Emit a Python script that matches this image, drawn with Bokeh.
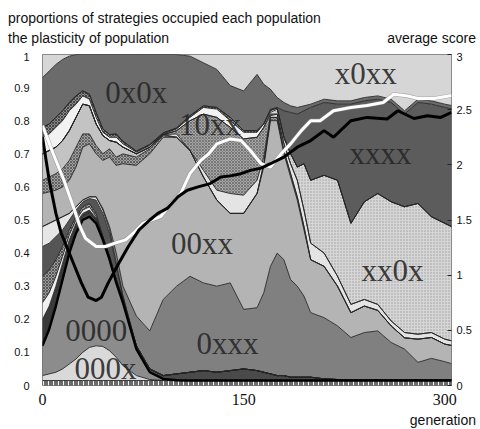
import numpy as np
from bokeh.plotting import figure
from bokeh.layouts import column
from bokeh.models import Range1d, LinearAxis, FixedTicker, CustomJSTickFormatter, Div
from bokeh.core.properties import value
from bokeh.embed import file_html
from bokeh.resources import INLINE

# ---------------- data ----------------
gen = [0, 5, 10, 15, 20, 25, 30, 35, 40, 45,
       50, 55, 60, 70, 80, 90, 100, 110, 120, 130,
       140, 150, 160, 165, 170, 175, 180, 185, 190, 195,
       200, 210, 220, 230, 240, 250, 260, 270, 280, 290,
       300, 305]

# cumulative upper boundary of each strategy band (0 = band absent)
top_base = [0.015] * 42
top_000x = [0.03, 0.035, 0.04, 0.05, 0.065, 0.08, 0.10, 0.115, 0.12, 0.118,
            0.105, 0.085, 0.06, 0.03, 0.018, 0, 0, 0, 0, 0,
            0, 0, 0, 0, 0, 0, 0, 0, 0, 0,
            0, 0, 0, 0, 0, 0, 0, 0, 0, 0,
            0, 0]
top_0000 = [0.12, 0.17, 0.24, 0.32, 0.40, 0.46, 0.50, 0.51, 0.49, 0.44,
            0.38, 0.31, 0.25, 0.11, 0.04, 0.02, 0.016, 0, 0, 0,
            0, 0, 0, 0, 0, 0, 0, 0, 0, 0,
            0, 0, 0, 0, 0, 0, 0, 0, 0, 0,
            0, 0]
top_low = [0.13, 0.18, 0.25, 0.33, 0.41, 0.47, 0.51, 0.52, 0.50, 0.45,
           0.39, 0.32, 0.26, 0.12, 0.05, 0.03, 0.035, 0.04, 0.045, 0.04,
           0.045, 0.05, 0.045, 0.04, 0.035, 0.03, 0.03, 0.025, 0.025, 0.025,
           0.025, 0.02, 0.018, 0.018, 0.018, 0.018, 0.018, 0.018, 0.018, 0.018,
           0.018, 0.018]
top_a1 = [0.20, 0.24, 0.30, 0.37, 0.44, 0.49, 0.52, 0.53, 0.505] + [0] * 33
top_a2 = [0.25, 0.28, 0.33, 0.39, 0.455, 0.50, 0.53, 0.54, 0.51] + [0] * 33
top_a3 = [0.33, 0.35, 0.38, 0.42, 0.47, 0.51, 0.54, 0.55, 0.52] + [0] * 33
top_a4 = [0.42, 0.43, 0.45, 0.47, 0.50, 0.53, 0.555, 0.565, 0.56, 0.52,
          0.46, 0.36, 0.27] + [0] * 29
top_a5 = [0.48, 0.49, 0.50, 0.51, 0.52, 0.54, 0.56, 0.57, 0.57, 0.53,
          0.47, 0.37] + [0] * 30
top_0xxx = [0, 0, 0, 0, 0, 0, 0, 0, 0, 0.535,
            0.48, 0.40, 0.30, 0.21, 0.165, 0.26, 0.30, 0.33, 0.31, 0.30,
            0.31, 0.23, 0.235, 0.28, 0.36, 0.40, 0.38, 0.32, 0.30, 0.27,
            0.22, 0.205, 0.18, 0.145, 0.16, 0.165, 0.13, 0.11, 0.07, 0.082,
            0.072, 0.066]
top_00xx = [0.58, 0.585, 0.59, 0.60, 0.62, 0.66, 0.72, 0.73, 0.70, 0.68,
            0.69, 0.665, 0.67, 0.665, 0.70, 0.75, 0.75, 0.71, 0.63, 0.56,
            0.52, 0.52, 0.58, 0.66, 0.80, 0.80, 0.70, 0.63, 0.56, 0.47,
            0.38, 0.36, 0.30, 0.22, 0.24, 0.227, 0.18, 0.144, 0.14, 0.145,
            0.125, 0.121]
top_hb = [0.62, 0.63, 0.64, 0.655, 0.68, 0.72, 0.76, 0.76, 0.725, 0.70,
          0.715, 0.69, 0.70, 0.69, 0.715, 0.755, 0, 0, 0, 0,
          0, 0, 0, 0.67, 0.81, 0.81, 0.71, 0.64, 0.57, 0.48,
          0, 0, 0, 0, 0, 0, 0, 0, 0, 0,
          0, 0]
top_lg_left = [0.70, 0.71, 0.72, 0.74, 0.77, 0.81, 0.85, 0.845, 0.79, 0.755,
               0.74, 0.735, 0.72, 0.70, 0.72, 0.758] + [0] * 26
top_lg = [0] * 16 + [0.76, 0.71, 0.65, 0.59,
                     0.58, 0.575, 0.62, 0.69, 0.815, 0.82, 0.73, 0.67, 0.62, 0.53,
                     0.43, 0.40, 0.33, 0.245, 0.26, 0.245, 0.195, 0.16, 0.155, 0.16,
                     0.14, 0.135]
top_10xx = [0, 0, 0, 0, 0, 0, 0, 0, 0, 0,
            0, 0, 0, 0, 0, 0, 0.77, 0.80, 0.82, 0.81,
            0.78, 0.745, 0.75, 0.78, 0.82, 0, 0, 0, 0, 0,
            0, 0, 0, 0, 0, 0, 0, 0, 0, 0,
            0, 0]
top_xx0x = [0] * 24 + [0.825, 0.835, 0.75, 0.70, 0.66, 0.67,
                       0.62, 0.635, 0.62, 0.49, 0.555, 0.58, 0.555, 0.54, 0.55, 0.51,
                       0.49, 0.48]
top_ws = [0.75, 0.76, 0.78, 0.80, 0.83, 0.85, 0.875, 0.865, 0.81, 0.765,
          0.75, 0.75, 0.73, 0.705, 0.725, 0.76, 0.775, 0.81, 0.84, 0.835,
          0.80, 0.765, 0.765, 0.79, 0.83, 0.838] + [0] * 16
top_hs = [0.78, 0.79, 0.81, 0.83, 0.855, 0.875, 0.89, 0.88, 0.825, 0.775,
          0.758, 0.76, 0.738, 0.708, 0.728, 0.763, 0.778, 0.815, 0.845, 0.84,
          0.81, 0.77, 0.77, 0.79, 0.832] + [0] * 17
top_xxxx = [0] * 24 + [0.835, 0.84, 0.83, 0.825, 0.82, 0.83,
                       0.84, 0.855, 0.85, 0.85, 0.86, 0.865, 0.855, 0.82, 0.855, 0.85,
                       0.84, 0.836]
top_0x0x = [0.93, 0.95, 0.97, 0.985, 0.995, 1, 1, 1, 1, 1,
            1, 1, 1, 1, 1, 1, 1, 0.995, 0.975, 0.955,
            0.906, 0.89, 0.94, 0.91, 0.895, 0.87, 0.855, 0.845, 0.84, 0.845,
            0.85, 0.865, 0.86, 0.86, 0.87, 0.875, 0.865, 0.83, 0.865, 0.86,
            0.85, 0.846]
top_x0xx = [1] * 42

# plasticity of population (left axis)
plast_gen = [0, 8, 16, 23, 28, 32, 40, 47, 54, 62, 69, 75, 81, 88, 95, 103, 110, 118, 124,
             130, 140, 148, 155, 163, 170, 178, 185, 193, 200, 207, 217, 230, 242, 254,
             262, 272, 280, 292, 305]
plasticity = [0.785, 0.70, 0.62, 0.54, 0.48, 0.445, 0.42, 0.42, 0.43, 0.44, 0.465, 0.49,
              0.50, 0.51, 0.545, 0.58, 0.64, 0.68, 0.70, 0.73, 0.745, 0.74, 0.71, 0.67,
              0.66, 0.70, 0.73, 0.77, 0.80, 0.80, 0.83, 0.84, 0.846, 0.855, 0.88, 0.875,
              0.867, 0.867, 0.876]

# average score (right axis)
score_gen = [0, 5, 10, 14, 22, 29, 34, 40, 44, 49, 57, 64, 72, 80, 86, 93, 101, 108, 116,
             125, 133, 140, 148, 155, 163, 170, 180, 190, 200, 210, 217, 230, 242, 257,
             265, 277, 287, 297, 305]
avg_score = [2.25, 1.86, 1.56, 1.38, 1.14, 0.93, 0.80, 0.77, 0.80, 0.93, 1.11, 1.26, 1.41,
             1.50, 1.56, 1.605, 1.71, 1.77, 1.80, 1.83, 1.89, 1.90, 1.92, 1.95, 1.97, 2.01,
             2.07, 2.16, 2.22, 2.31, 2.25, 2.40, 2.43, 2.415, 2.49, 2.42, 2.445, 2.43, 2.475]

strategy_names = ["0x0x", "10xx", "x0xx", "xxxx", "00xx", "xx0x", "0xxx", "0000", "000x"]
left_ticks = [0, 0.1, 0.2, 0.3, 0.4, 0.5, 0.6, 0.7, 0.8, 0.9, 1]
right_ticks = [0, 0.5, 1, 1.5, 2, 2.5, 3]
gen_ticks = [0, 150, 300]

title_1 = "proportions of strategies occupied each population"
title_left = "the plasticity of population"
title_right = "average score"
x_title = "generation"

# ---------------- styles ----------------
bands = [
    (top_base, dict(fill_color="#6a6a6a", hatch_pattern="vertical_line", hatch_color="#f4f4f4", hatch_scale=5, hatch_weight=1)),
    (top_000x, dict(fill_color="#d9d9d9")),
    (top_0000, dict(fill_color="#8c8c8c")),
    (top_low, dict(fill_color="#4a4a4a")),
    (top_a1, dict(fill_color="#3a3a3a")),
    (top_a2, dict(fill_color="#f0f0f0")),
    (top_a3, dict(fill_color="#9a9a9a", hatch_pattern="diagonal_cross", hatch_color="#444444", hatch_scale=3, hatch_weight=0.8)),
    (top_a4, dict(fill_color="#555555")),
    (top_a5, dict(fill_color="#e6e6e6")),
    (top_0xxx, dict(fill_color="#808080")),
    (top_00xx, dict(fill_color="#b4b4b4")),
    (top_hb, dict(fill_color="#a0a0a0", hatch_pattern="diagonal_cross", hatch_color="#505050", hatch_scale=3, hatch_weight=0.8)),
    (top_lg_left, dict(fill_color="#c3c3c3")),
    (top_lg, dict(fill_color="#e4e4e4")),
    (top_10xx, dict(fill_color="#a6a6a6", hatch_pattern="diagonal_cross", hatch_color="#6a6a6a", hatch_scale=3, hatch_weight=0.8)),
    (top_xx0x, dict(fill_color="#d6d6d6", hatch_pattern="dot", hatch_color="#9c9c9c", hatch_scale=3, hatch_weight=1)),
    (top_ws, dict(fill_color="#f2f2f2")),
    (top_hs, dict(fill_color="#8a8a8a", hatch_pattern="diagonal_cross", hatch_color="#333333", hatch_scale=3, hatch_weight=0.8)),
    (top_xxxx, dict(fill_color="#5c5c5c")),
    (top_0x0x, dict(fill_color="#6b6b6b")),
    (top_x0xx, dict(fill_color="#d6d6d6")),
]

SANS = "Liberation Sans"
txt_css = "position:absolute; font-family:'Liberation Sans',Arial,sans-serif; font-size:14px; line-height:16px; color:#111; white-space:nowrap;"

# ---------------- header (titles) ----------------
head = Div(width=480, height=52, margin=0, text=(
    "<div style='position:relative; width:480px; height:52px;'>"
    f"<span style=\"{txt_css} left:8px; top:10px;\">{title_1}</span>"
    f"<span style=\"{txt_css} left:8px; top:30px;\">{title_left}</span>"
    f"<span style=\"{txt_css} right:4px; top:30px;\">{title_right}</span>"
    "</div>"))

# ---------------- main chart ----------------
p = figure(width=480, height=360, output_backend="svg", toolbar_location=None,
           x_range=Range1d(0, 305), y_range=Range1d(0, 1),
           min_border_left=42, min_border_right=29, min_border_top=2, min_border_bottom=27)
p.extra_y_ranges = {"score": Range1d(0, 3)}
p.add_layout(LinearAxis(y_range_name="score"), "right")
p.xgrid.visible = False
p.ygrid.visible = False
p.outline_line_color = "#707070"

x = np.array(gen, dtype=float)
prev = np.zeros(len(gen))
tops = []
for t, style in bands:
    cur = np.maximum(prev, np.array(t, dtype=float))
    p.varea(x=x, y1=prev, y2=cur, **style)
    tops.append(cur)
    prev = cur

for cur in tops[:-1]:
    p.line(x, cur, line_color="#262626", line_width=0.9)

# thick outline of the 0000 bell
p.line(x, tops[2], line_color="black", line_width=2.4)

p.line(plast_gen, plasticity, line_color="#8a8a8a", line_width=4.2, line_alpha=0.6)
p.line(plast_gen, plasticity, line_color="white", line_width=3)
p.line(score_gen, avg_score, y_range_name="score", line_color="black", line_width=3)

# strategy names
name_x = [70, 125, 241, 252, 119, 261, 138, 40, 47]
name_y = [0.884, 0.79, 0.944, 0.70, 0.43, 0.346, 0.128, 0.165, 0.052]
p.text(x=name_x, y=name_y, text=strategy_names, text_font=value("Liberation Serif"),
       text_font_size="31px", text_color="#262626", text_alpha=0.9,
       text_align="center", text_baseline="alphabetic")

la = p.left[0]
la.ticker = FixedTicker(ticks=left_ticks)
la.formatter = CustomJSTickFormatter(code="return String(Math.round(tick*10)/10);")
la.major_tick_in = 0
la.major_tick_out = 0
la.minor_tick_line_color = None
la.axis_line_color = None
la.major_label_standoff = 13
la.major_label_text_font = SANS
la.major_label_text_font_size = "11px"
la.major_label_text_color = "#111111"

ra = p.right[0]
ra.ticker = FixedTicker(ticks=right_ticks)
ra.formatter = CustomJSTickFormatter(code="return String(Math.round(tick*10)/10);")
ra.major_tick_in = 4
ra.major_tick_out = 0
ra.major_tick_line_color = "#222222"
ra.minor_tick_line_color = None
ra.axis_line_color = None
ra.major_label_standoff = 5
ra.major_label_text_font = SANS
ra.major_label_text_font_size = "11px"
ra.major_label_text_color = "#111111"

ba = p.below[0]
ba.ticker = FixedTicker(ticks=gen_ticks)
ba.major_tick_in = 0
ba.major_tick_out = 0
ba.minor_tick_line_color = None
ba.axis_line_color = None
ba.major_label_standoff = 8
ba.major_label_text_font = "Liberation Serif"
ba.major_label_text_font_size = "16px"
ba.major_label_text_color = "#111111"

# ---------------- footer (x axis name) ----------------
foot = Div(width=480, height=17, margin=0, text=(
    "<div style='position:relative; width:480px; height:17px;'>"
    f"<span style=\"{txt_css} right:4px; top:0px;\">{x_title}</span>"
    "</div>"))

layout = column(head, p, foot, spacing=0)
open("out.html", "w").write(file_html(layout, INLINE))
